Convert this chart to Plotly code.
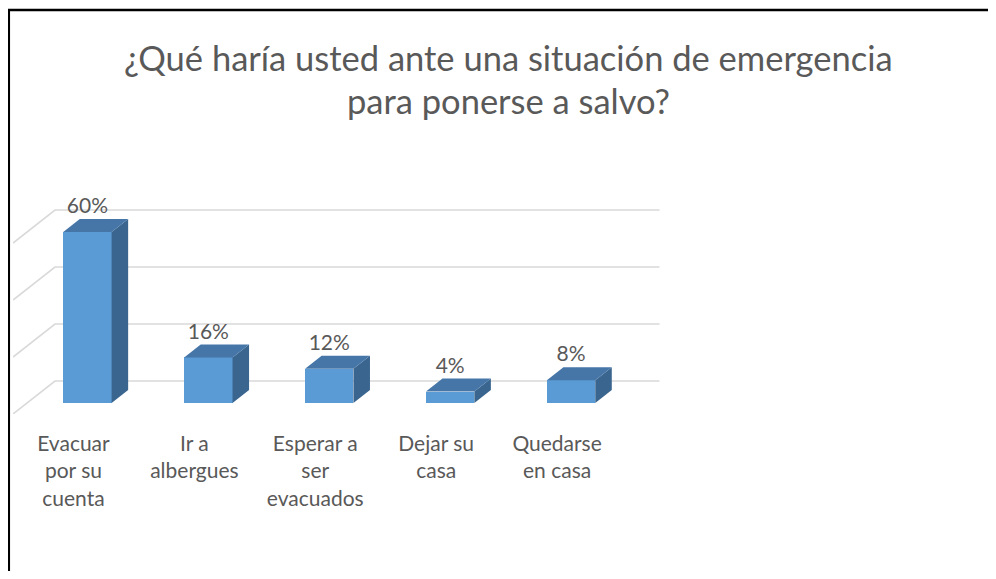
import plotly.graph_objects as go

# ---- data ----
categories = ["Evacuar<br>por su<br>cuenta", "Ir a<br>albergues",
              "Esperar a<br>ser<br>evacuados", "Dejar su<br>casa", "Quedarse<br>en casa"]
values = [60, 16, 12, 4, 8]
value_labels = ["60%", "16%", "12%", "4%", "8%"]
gridlines = [0, 20, 40, 60]
title_lines = ["¿Qué haría usted ante una situación de emergencia", "para ponerse a salvo?"]

# ---- geometry (pixels, screen coords; page body adds an 8px offset) ----
OFF = 8
W, H = 996 - 2 * OFF, 579 - 2 * OFF
FLOOR_LEFT_PX = 13 - OFF      # x of front-left floor corner inside the figure
FLOOR_FRONT_PX = 414 - OFF    # y of the front floor edge inside the figure
PX_X = 121.0                  # pixels per category
X_MIN, X_MAX = -0.5, 5.0
ML = FLOOR_LEFT_PX
PLOT_W = (X_MAX - X_MIN) * PX_X
MR = W - ML - PLOT_W
PX_Y = 2.85                   # pixels per percent
Y_MAX = 100.0
PLOT_H = Y_MAX * PX_Y
MB = H - FLOOR_FRONT_PX
MT = H - MB - PLOT_H

DEPTH_PX = (42.0, 33.0)
DX, DY = DEPTH_PX[0] / PX_X, DEPTH_PX[1] / PX_Y
BAR_D0, BAR_D1 = 0.333, 0.727
BAR_W = 0.4
FX, FY = BAR_D0 * DX, BAR_D0 * DY
BDX, BDY = (BAR_D1 - BAR_D0) * DX, (BAR_D1 - BAR_D0) * DY
LABEL_GAP = 11.0 / PX_Y

FRONT = "#5b9bd5"
TOP = "#4676a8"
SIDE = "#3a658f"
GRID = "#d9d9d9"
TXT = "#595959"
FONT = "Lato"

fig = go.Figure()

# gridlines on back wall + side wall (drawn below traces)
shapes = []
for g in gridlines:
    shapes.append(dict(type="path", xref="x", yref="y", layer="below",
                       path=f"M {X_MIN},{g} L {X_MIN + DX},{g + DY} L {4.5 + DX},{g + DY}",
                       line=dict(color=GRID, width=1.6)))

# front faces
xs = [i + FX for i in range(len(values))]
fig.add_trace(go.Bar(x=xs, y=values, base=FY, width=BAR_W,
                     marker=dict(color=FRONT, line=dict(width=0)), showlegend=False))

# side and top faces
sx, sy, tx, ty = [], [], [], []
for i, v in enumerate(values):
    xl = i + FX - BAR_W / 2
    xr = i + FX + BAR_W / 2
    yb, yt = FY, FY + v
    sx += [xr, xr + BDX, xr + BDX, xr, xr, None]
    sy += [yb, yb + BDY, yt + BDY, yt, yb, None]
    tx += [xl, xr, xr + BDX, xl + BDX, xl, None]
    ty += [yt, yt, yt + BDY, yt + BDY, yt, None]
fig.add_trace(go.Scatter(x=sx, y=sy, mode="lines", fill="toself", fillcolor=SIDE,
                         line=dict(width=0, color=SIDE), hoverinfo="skip", showlegend=False))
fig.add_trace(go.Scatter(x=tx, y=ty, mode="lines", fill="toself", fillcolor=TOP,
                         line=dict(width=0, color=TOP), hoverinfo="skip", showlegend=False))

# data labels
fig.add_trace(go.Scatter(x=xs, y=[v + FY + BDY + LABEL_GAP for v in values], mode="text",
                         text=value_labels, textposition="middle center",
                         textfont=dict(family=FONT, size=21, color=TXT),
                         cliponaxis=False, hoverinfo="skip", showlegend=False))


def px_to_paper_x(px):
    return (px - OFF - ML) / PLOT_W


def px_to_paper_y(py):
    return (H - MB - (py - OFF)) / PLOT_H


annotations = []
for line, py in zip(title_lines, [57, 101]):
    annotations.append(dict(text=line, xref="paper", yref="paper",
                            x=px_to_paper_x(509), y=px_to_paper_y(py),
                            xanchor="center", yanchor="middle", showarrow=False,
                            font=dict(family=FONT, size=34.5, color=TXT)))

shapes += [
    dict(type="line", xref="paper", yref="paper",
         x0=px_to_paper_x(8.8), x1=px_to_paper_x(8.8), y0=px_to_paper_y(9), y1=px_to_paper_y(600),
         line=dict(color="black", width=2.5)),
    dict(type="line", xref="paper", yref="paper",
         x0=px_to_paper_x(7.5), x1=px_to_paper_x(1010), y0=px_to_paper_y(10), y1=px_to_paper_y(10),
         line=dict(color="black", width=2.5)),
]

fig.update_layout(
    width=W, height=H,
    margin=dict(l=ML, r=MR, t=MT, b=MB, pad=0),
    paper_bgcolor="white", plot_bgcolor="white",
    bargap=0, barmode="overlay",
    showlegend=False,
    annotations=annotations, shapes=shapes,
    xaxis=dict(range=[X_MIN, X_MAX], tickmode="array", tickvals=list(range(len(categories))),
               ticktext=categories, showgrid=False, zeroline=False, showline=False,
               ticks="", ticklabelstandoff=15,
               tickfont=dict(family=FONT, size=21, color=TXT), fixedrange=True),
    yaxis=dict(range=[0, Y_MAX], visible=False, fixedrange=True),
)

fig.write_html("out.html")
